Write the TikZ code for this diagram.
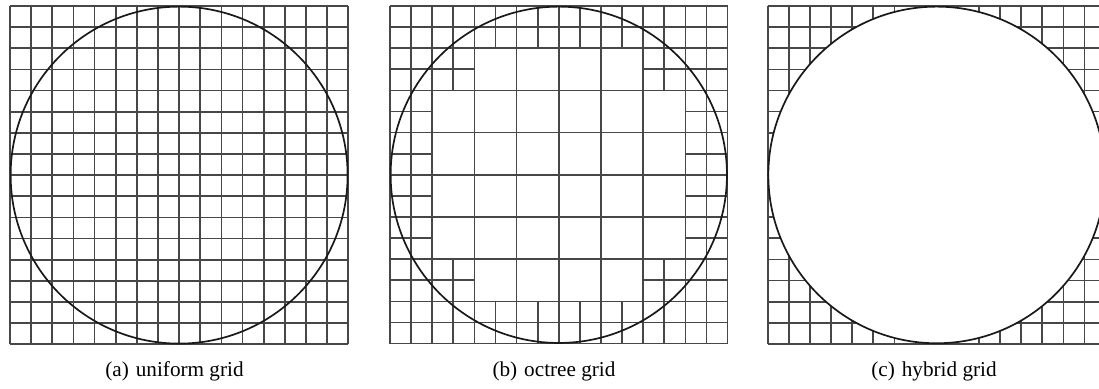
\documentclass[tikz,border=0pt]{standalone}
\usepackage{fontspec}
\setmainfont{Liberation Serif}
\begin{document}
\begin{tikzpicture}[x=0.5pt,y=-0.5pt,
  gridline/.style={line width=0.85pt, draw=black!72},
  circ/.style={line width=0.85pt, draw=black!90},
  captext/.style={font=\fontsize{10.6}{12}\selectfont, anchor=base, inner sep=0pt}]
\useasboundingbox (0,0) rectangle (1099,389);
\clip (0,0) rectangle (1099,389);

% (a) uniform grid
\begin{scope}[shift={(10,6)}, x=10.57pt, y=-10.57pt]
  \foreach \k in {0,...,16}{
    \draw[gridline] (0,\k) -- (16,\k);
    \draw[gridline] (\k,0) -- (\k,16);
  }
  \draw[circ] (8,8) circle[radius=7.97];
\end{scope}

% (b) octree grid
\begin{scope}[shift={(390,6)}, x=10.55pt, y=-10.55pt]
  % full lines
  \foreach \k in {0,1,2,4,6,8,10,12,14,15,16}{
    \draw[gridline] (0,\k) -- (16,\k);
    \draw[gridline] (\k,0) -- (\k,16);
  }
  % lines at 3 and 13
  \foreach \k in {3,13}{
    \draw[gridline] (0,\k) -- (4,\k);
    \draw[gridline] (12,\k) -- (16,\k);
    \draw[gridline] (\k,0) -- (\k,4);
    \draw[gridline] (\k,12) -- (\k,16);
  }
  % lines at 5,7,9,11
  \foreach \k in {5,7,9,11}{
    \draw[gridline] (0,\k) -- (2,\k);
    \draw[gridline] (14,\k) -- (16,\k);
    \draw[gridline] (\k,0) -- (\k,2);
    \draw[gridline] (\k,14) -- (\k,16);
  }
  \draw[circ] (8,8) circle[radius=7.97];
\end{scope}

% (c) hybrid grid
\begin{scope}[shift={(767.7,6)}, x=10.56pt, y=-10.56pt]
  \foreach \k in {0,...,16}{
    \draw[gridline] (0,\k) -- (16,\k);
    \draw[gridline] (\k,0) -- (\k,16);
  }
  \fill[white] (8,8) circle[radius=7.97];
  \draw[circ] (8,8) circle[radius=7.97];
\end{scope}

\node[captext] (capa) at (174.5,377) {(a)\hspace{0.33em}uniform grid};
\node[captext] (capb) at (554,377) {(b)\hspace{0.33em}octree grid};
\node[captext] (capc) at (934,377) {(c)\hspace{0.33em}hybrid grid};
\end{tikzpicture}
\end{document}
